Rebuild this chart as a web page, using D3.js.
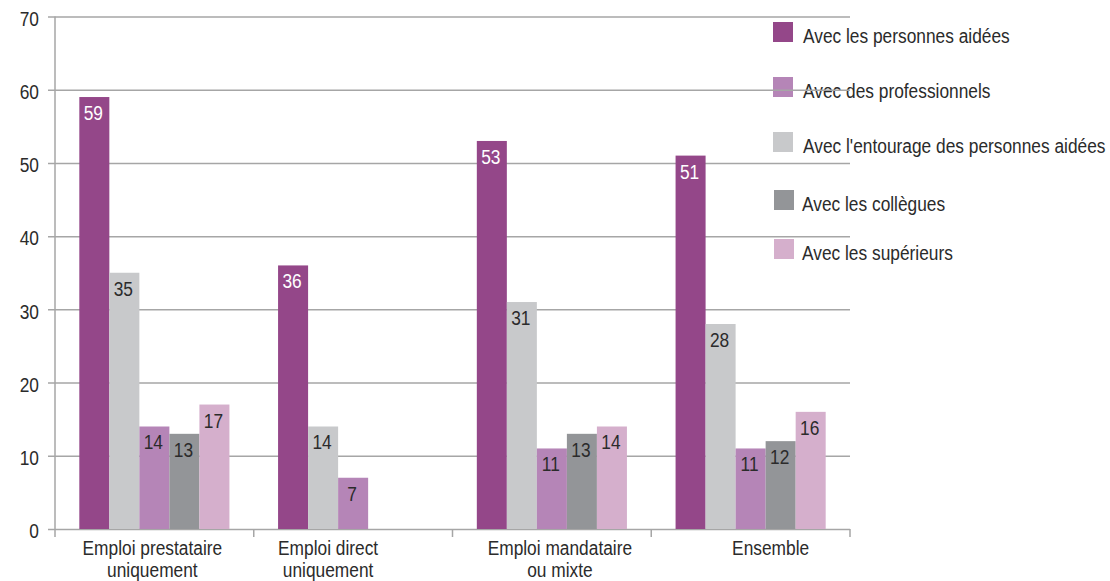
<!DOCTYPE html>
<html>
<head>
<meta charset="utf-8">
<script src="https://cdn.jsdelivr.net/npm/d3@7"></script>
<style>
  html, body { margin: 0; padding: 0; background: #ffffff; }
  svg { display: block; }
  text { font-family: "Liberation Sans", Arial, sans-serif; }
</style>
</head>
<body>
<script>
// ---------- data ----------
const categories = [
  ["Emploi prestataire", "uniquement"],
  ["Emploi direct", "uniquement"],
  ["Emploi mandataire", "ou mixte"],
  ["Ensemble"]
];
const seriesNames = [
  "Avec les personnes aidées",
  "Avec l'entourage des personnes aidées",
  "Avec des professionnels",
  "Avec les collègues",
  "Avec les supérieurs"
];
const personnesAidees = [59, 36, 53, 51];
const entourage       = [35, 14, 31, 28];
const professionnels  = [14, 7, 11, 11];
const collegues       = [13, null, 13, 12];
const superieurs      = [17, null, 14, 16];
const legendOrder = [
  "Avec les personnes aidées",
  "Avec des professionnels",
  "Avec l'entourage des personnes aidées",
  "Avec les collègues",
  "Avec les supérieurs"
];
const yTicks = [0, 10, 20, 30, 40, 50, 60, 70];

// ---------- styles / layout ----------
const seriesValues = [personnesAidees, entourage, professionnels, collegues, superieurs];
const colors = {
  "Avec les personnes aidées": "#944789",
  "Avec l'entourage des personnes aidées": "#c8c9cb",
  "Avec des professionnels": "#b585b7",
  "Avec les collègues": "#939598",
  "Avec les supérieurs": "#d5afcc"
};
const labelColors = {
  "Avec les personnes aidées": "#ffffff",
  "Avec l'entourage des personnes aidées": "#2b2b2b",
  "Avec des professionnels": "#2b2b2b",
  "Avec les collègues": "#2b2b2b",
  "Avec les supérieurs": "#2b2b2b"
};
const catLabelDx = [-2, -25, 8, 20];
const legendY = [32, 87, 142, 200, 249];
const legendX = [773, 773, 773, 774, 774];
const textColor = "#2b2b2b";
const gridColor = "#a6a6a6";
const FS = 21;          // font size
const SQUEEZE = 0.825;  // horizontal condensation of the narrow font
const W = 1110, H = 581;
const mLeft = 55, mRight = 850, mTop = 16.5, mBottom = 529;

const svg = d3.select("body").append("svg").attr("width", W).attr("height", H);

const x0 = d3.scaleBand().domain(d3.range(categories.length)).range([mLeft, mRight]).padding(0);
const x1 = d3.scaleBand().domain(seriesNames).range([0, x0.bandwidth()]).paddingInner(0).paddingOuter(0.81);
const y = d3.scaleLinear().domain([0, 70]).range([mBottom, mTop]);

// legend (drawn under gridlines)
const leg = svg.append("g");
legendOrder.forEach((name, i) => {
  const g = leg.append("g").attr("transform", `translate(${legendX[i]},${legendY[i]})`);
  g.append("rect").attr("x", 0).attr("y", -10).attr("width", 20).attr("height", 20).attr("fill", colors[name]);
  g.append("text").attr("class", "nt").attr("x", 30 - (i >= 3 ? 2 : 0)).attr("y", 10.5)
    .attr("font-size", FS).attr("fill", textColor).text(name);
});

// gridlines + y ticks
const yAxis = d3.axisLeft(y).tickValues(yTicks).tickSize(7).tickPadding(9).tickFormat(d3.format("d"));
const yg = svg.append("g").attr("transform", `translate(${mLeft},0)`).call(yAxis);
yg.select(".domain").remove();
yg.selectAll(".tick line").attr("x1", -7).attr("x2", mRight - mLeft).attr("stroke", gridColor).attr("stroke-width", 1.5);
yg.selectAll(".tick text").attr("class", "nt").attr("font-size", FS).attr("fill", textColor)
  .attr("x", -16).attr("dy", "0.42em").attr("font-family", "Liberation Sans, Arial, sans-serif");

// vertical axis line
svg.append("line").attr("x1", mLeft).attr("x2", mLeft).attr("y1", mTop).attr("y2", mBottom + 8)
  .attr("stroke", gridColor).attr("stroke-width", 1.5);

// category boundary ticks
const bounds = x0.domain().map(d => x0(d)).concat([mRight]);
svg.append("g").selectAll("line").data(bounds.slice(1)).join("line")
  .attr("x1", d => d).attr("x2", d => d).attr("y1", mBottom).attr("y2", mBottom + 8)
  .attr("stroke", gridColor).attr("stroke-width", 1.5);

// bars
const groups = svg.append("g").selectAll("g").data(categories).join("g")
  .attr("transform", (d, i) => `translate(${x0(i)},0)`);
groups.each(function(cat, ci) {
  const g = d3.select(this);
  seriesNames.forEach((name, si) => {
    const v = seriesValues[si][ci];
    if (v == null) return;
    g.append("rect")
      .attr("x", x1(name)).attr("y", y(v))
      .attr("width", x1.bandwidth()).attr("height", y(0) - y(v))
      .attr("fill", colors[name]);
    g.append("text").attr("class", "nt")
      .attr("x", x1(name) + x1.bandwidth() / 2 - 1).attr("y", y(v) + 23)
      .attr("text-anchor", "middle").attr("font-size", FS)
      .attr("fill", labelColors[name]).text(v);
  });
});

// category labels
const cl = svg.append("g");
categories.forEach((lines, i) => {
  const cx = x0(i) + x0.bandwidth() / 2 + catLabelDx[i];
  const t = cl.append("text").attr("class", "nt")
    .attr("x", cx).attr("y", 555).attr("text-anchor", "middle")
    .attr("font-size", FS).attr("fill", textColor);
  lines.forEach((ln, k) => {
    t.append("tspan").attr("x", cx).attr("dy", k === 0 ? 0 : 22.5).text(ln);
  });
});

// condense text horizontally around its anchor x (narrow face look)
svg.selectAll(".nt").each(function() {
  const ax = +this.getAttribute("x") || 0;
  d3.select(this).attr("transform", `translate(${ax * (1 - SQUEEZE)},0) scale(${SQUEEZE},1)`);
});
</script>
</body>
</html>
